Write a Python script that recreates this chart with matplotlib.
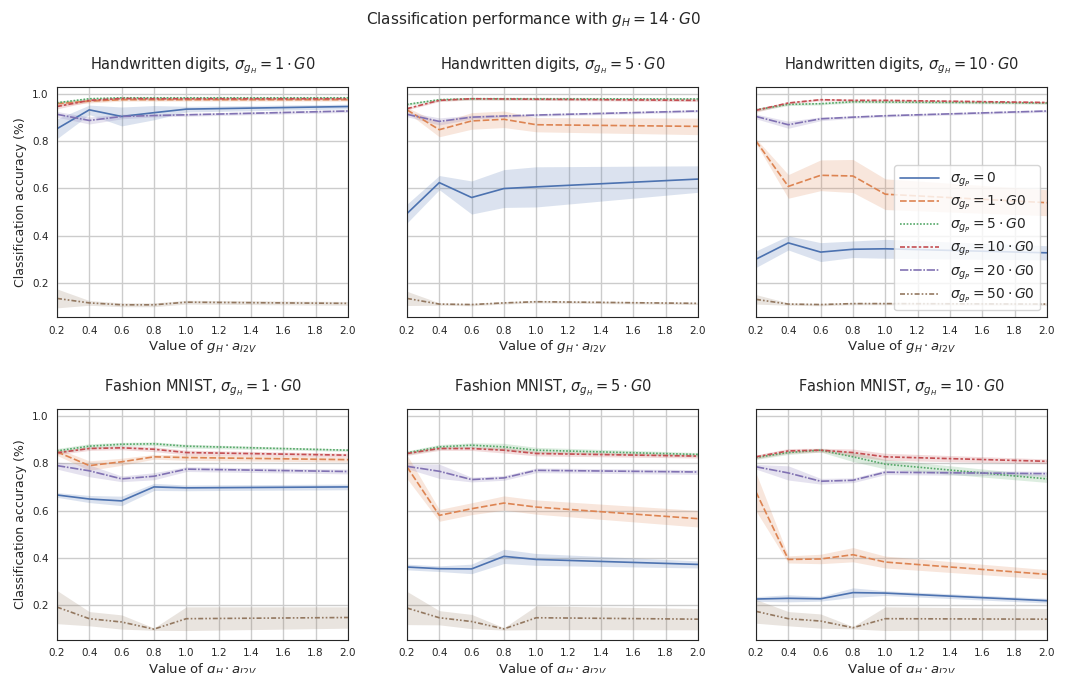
import matplotlib
matplotlib.use("Agg")
import matplotlib.pyplot as plt
import seaborn as sns
import numpy as np

sns.set_style("white")
plt.rcParams['font.family'] = ['DejaVu Sans']

x = [0.2, 0.4, 0.6, 0.8, 1.0, 2.0]
sigma_p = ['0', r'1 \cdot G0', r'5 \cdot G0', r'10 \cdot G0', r'20 \cdot G0', r'50 \cdot G0']
colors = sns.color_palette("deep")[:6]
dashes = ['', (4, 1.5), (1, 1), (3, 1.25, 1.5, 1.25), (5, 1, 1, 1), (3, 1.25, 1, 1.25, 1, 1.25)]

# mean accuracy, one row per sigma_gP (0, 1, 5, 10, 20, 50)
digits_1 = [[0.852, 0.932, 0.904, 0.920, 0.935, 0.946],
            [0.958, 0.969, 0.975, 0.975, 0.975, 0.975],
            [0.962, 0.979, 0.983, 0.983, 0.983, 0.983],
            [0.946, 0.972, 0.980, 0.979, 0.979, 0.979],
            [0.913, 0.887, 0.904, 0.908, 0.911, 0.927],
            [0.134, 0.115, 0.107, 0.107, 0.118, 0.113]]
digits_1_ci = [[0.042, 0.02, 0.04, 0.03, 0.012, 0.01],
               [0.01, 0.008, 0.006, 0.006, 0.006, 0.006],
               [0.005, 0.004, 0.004, 0.004, 0.004, 0.004],
               [0.01, 0.006, 0.005, 0.005, 0.005, 0.005],
               [0.012, 0.015, 0.01, 0.006, 0.006, 0.006],
               [0.04, 0.01, 0.008, 0.008, 0.008, 0.008]]

digits_5 = [[0.493, 0.624, 0.561, 0.599, 0.606, 0.639],
            [0.932, 0.848, 0.885, 0.892, 0.869, 0.862],
            [0.955, 0.975, 0.979, 0.979, 0.979, 0.978],
            [0.937, 0.972, 0.979, 0.978, 0.977, 0.972],
            [0.913, 0.883, 0.901, 0.906, 0.910, 0.927],
            [0.134, 0.110, 0.108, 0.115, 0.120, 0.113]]
digits_5_ci = [[0.04, 0.03, 0.07, 0.08, 0.085, 0.056],
               [0.01, 0.03, 0.035, 0.035, 0.03, 0.035],
               [0.005, 0.005, 0.005, 0.005, 0.005, 0.005],
               [0.005, 0.005, 0.005, 0.005, 0.005, 0.005],
               [0.01, 0.015, 0.008, 0.005, 0.005, 0.005],
               [0.03, 0.005, 0.005, 0.005, 0.005, 0.005]]

digits_10 = [[0.300, 0.369, 0.330, 0.342, 0.344, 0.327],
             [0.800, 0.608, 0.655, 0.652, 0.575, 0.539],
             [0.932, 0.955, 0.958, 0.966, 0.965, 0.961],
             [0.930, 0.961, 0.975, 0.972, 0.972, 0.963],
             [0.904, 0.869, 0.894, 0.901, 0.907, 0.927],
             [0.130, 0.110, 0.108, 0.112, 0.112, 0.110]]
digits_10_ci = [[0.035, 0.03, 0.04, 0.035, 0.04, 0.03],
                [0.01, 0.05, 0.065, 0.07, 0.065, 0.055],
                [0.006, 0.005, 0.005, 0.005, 0.005, 0.005],
                [0.008, 0.005, 0.005, 0.005, 0.005, 0.005],
                [0.01, 0.015, 0.008, 0.005, 0.005, 0.005],
                [0.02, 0.005, 0.005, 0.005, 0.005, 0.005]]

fashion_1 = [[0.666, 0.649, 0.641, 0.700, 0.696, 0.700],
             [0.848, 0.790, 0.806, 0.827, 0.824, 0.815],
             [0.852, 0.872, 0.880, 0.882, 0.872, 0.855],
             [0.844, 0.862, 0.865, 0.859, 0.845, 0.834],
             [0.790, 0.768, 0.734, 0.745, 0.775, 0.765],
             [0.193, 0.144, 0.130, 0.100, 0.144, 0.149]]
fashion_1_ci = [[0.01, 0.015, 0.02, 0.015, 0.012, 0.012],
                [0.015, 0.02, 0.015, 0.01, 0.012, 0.01],
                [0.01, 0.01, 0.008, 0.008, 0.008, 0.005],
                [0.008, 0.008, 0.008, 0.01, 0.01, 0.008],
                [0.015, 0.025, 0.012, 0.015, 0.01, 0.01],
                [0.07, 0.03, 0.03, 0.005, 0.05, 0.045]]

fashion_5 = [[0.362, 0.355, 0.354, 0.407, 0.394, 0.373],
             [0.785, 0.580, 0.608, 0.632, 0.615, 0.566],
             [0.844, 0.869, 0.876, 0.869, 0.855, 0.837],
             [0.841, 0.862, 0.862, 0.855, 0.841, 0.830],
             [0.787, 0.766, 0.731, 0.738, 0.770, 0.763],
             [0.189, 0.148, 0.132, 0.101, 0.148, 0.142]]
fashion_5_ci = [[0.012, 0.012, 0.02, 0.03, 0.025, 0.015],
                [0.05, 0.025, 0.025, 0.03, 0.03, 0.035],
                [0.008, 0.01, 0.01, 0.015, 0.012, 0.008],
                [0.008, 0.008, 0.008, 0.012, 0.01, 0.008],
                [0.01, 0.03, 0.01, 0.01, 0.01, 0.01],
                [0.07, 0.03, 0.03, 0.005, 0.05, 0.045]]

fashion_10 = [[0.227, 0.230, 0.228, 0.254, 0.252, 0.220],
              [0.679, 0.394, 0.396, 0.414, 0.383, 0.331],
              [0.824, 0.845, 0.855, 0.827, 0.796, 0.734],
              [0.827, 0.852, 0.855, 0.845, 0.827, 0.808],
              [0.785, 0.759, 0.724, 0.728, 0.762, 0.756],
              [0.175, 0.144, 0.134, 0.106, 0.144, 0.142]]
fashion_10_ci = [[0.01, 0.015, 0.01, 0.02, 0.01, 0.01],
                 [0.08, 0.015, 0.02, 0.03, 0.025, 0.02],
                 [0.008, 0.008, 0.008, 0.02, 0.02, 0.015],
                 [0.008, 0.01, 0.008, 0.015, 0.015, 0.01],
                 [0.01, 0.03, 0.012, 0.01, 0.01, 0.01],
                 [0.05, 0.03, 0.03, 0.005, 0.05, 0.045]]

panels = [
    ('Handwritten digits', '1', digits_1, digits_1_ci),
    ('Handwritten digits', '5', digits_5, digits_5_ci),
    ('Handwritten digits', '10', digits_10, digits_10_ci),
    ('Fashion MNIST', '1', fashion_1, fashion_1_ci),
    ('Fashion MNIST', '5', fashion_5, fashion_5_ci),
    ('Fashion MNIST', '10', fashion_10, fashion_10_ci),
]

fig = plt.figure(figsize=(10.67, 6.73), dpi=100)
lefts = [0.0534, 0.3814, 0.7085]
bottoms = [0.5285, 0.049]
heights = [0.342, 0.343]

for i, (name, sh, means, cis) in enumerate(panels):
    r, c = divmod(i, 3)
    ax = fig.add_axes([lefts[c], bottoms[r], 0.2727, heights[r]])
    for k in range(6):
        m = np.array(means[k])
        e = np.array(cis[k])
        ax.fill_between(x, m - e, m + e, color=colors[k], alpha=0.2, linewidth=0)
        line, = ax.plot(x, m, color=colors[k], linewidth=1.2,
                        label=r'$\sigma_{g_P} = ' + sigma_p[k] + '$')
        if dashes[k]:
            line.set_dashes(dashes[k])
    ax.set_xlim(0.2, 2.0)
    ax.set_ylim(0.054, 1.028)
    ax.set_xticks(np.arange(0.2, 2.01, 0.2))
    ax.set_yticks([0.2, 0.4, 0.6, 0.8, 1.0])
    ax.grid(True, color='#cccccc', linewidth=1)
    ax.tick_params(labelsize=7.5, length=0, pad=6)
    for s in ax.spines.values():
        s.set_color('#262626')
    ax.set_title(name + r', $\sigma_{g_H} = ' + (sh + r' \cdot G0') + '$', fontsize=10.5, pad=13)
    ax.set_xlabel(r'Value of $g_H \cdot a_{I2V}$', fontsize=9.5, labelpad=2)
    if c == 0:
        ax.set_ylabel('Classification accuracy (%)', fontsize=9)
        ax.set_yticklabels(['0.2', '0.4', '0.6', '0.8', '1.0'])
    else:
        ax.set_yticklabels([])
    if i == 2:
        ax.legend(loc='lower right', fontsize=10, handlelength=2.8,
                  borderpad=0.4, labelspacing=0.35)

fig.suptitle(r'Classification performance with $g_H = 14 \cdot G0$', fontsize=11, y=0.985)

plt.savefig('out.png', dpi=100)
